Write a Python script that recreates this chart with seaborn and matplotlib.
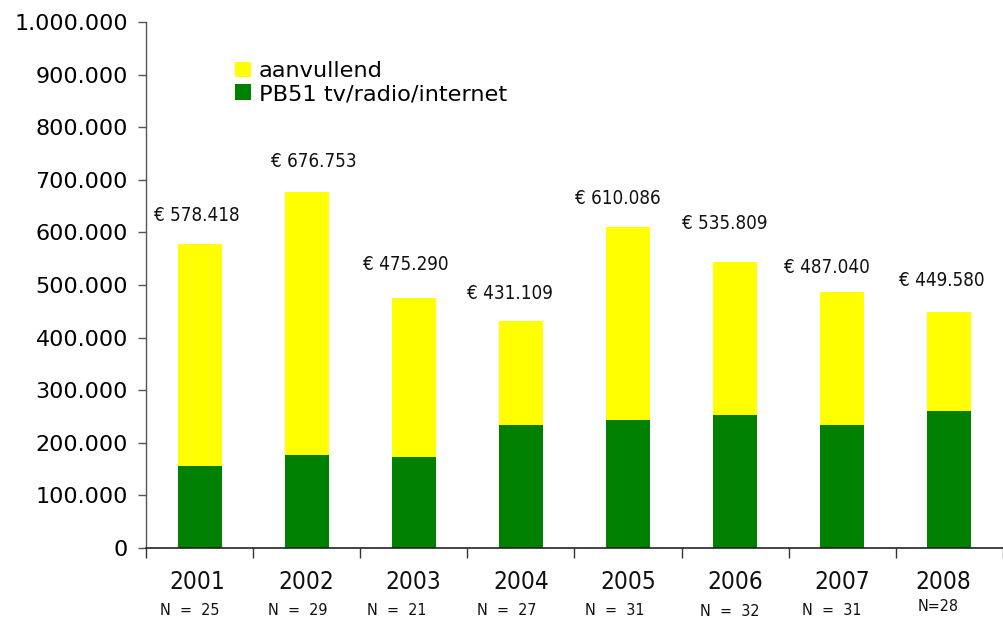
import matplotlib
matplotlib.use("Agg")
import matplotlib.pyplot as plt
import seaborn as sns
import pandas as pd
from matplotlib.ticker import FuncFormatter, FixedLocator
from matplotlib.patches import Patch
from matplotlib import font_manager as fm

# ---- data ----
years = ["2001", "2002", "2003", "2004", "2005", "2006", "2007", "2008"]
n_labels = ["N = 25", "N = 29", "N = 21", "N = 27", "N = 31", "N = 32", "N = 31", "N=28"]
totals = [578418, 676753, 475290, 431109, 610086, 544000, 487040, 449580]
total_labels = ["€ 578.418", "€ 676.753", "€ 475.290", "€ 431.109",
                "€ 610.086", "€ 535.809", "€ 487.040", "€ 449.580"]
pb51 = [156000, 177000, 173000, 234000, 243000, 253000, 234000, 260000]
series_names = ["aanvullend", "PB51 tv/radio/internet"]
colors = ["#FFFF00", "#008000"]

# label offsets (pixels)
label_offsets = [(-3, 28), (7, 31), (-8, 33), (-11, 28), (-10, 29), (-10, 38), (-15, 24), (-8, 31)]
year_dx = [-2, 0, -1, 0, 0, 0, 0, -6]
n_offsets = [(-10, -62), (-9, -62), (-17, -62), (-14, -62), (-13, -62), (-5, -63), (-11, -62), (-11, -58)]

sns.set_theme(style="white")
plt.rcParams['font.family'] = ['DejaVu Sans']

# condensed font lookup
cond_fp = None
for f in fm.fontManager.ttflist:
    if f.name == 'DejaVu Sans' and f.stretch in ('condensed', 'semi-condensed') and f.style == 'normal' and f.weight in (400, 'normal'):
        cond_fp = f.fname
        break
if cond_fp is None:
    for nm in ['Liberation Sans Narrow', 'Roboto Condensed', 'Open Sans Condensed']:
        hits = [f for f in fm.fontManager.ttflist if f.name == nm and f.style == 'normal']
        if hits:
            cond_fp = hits[0].fname
            break

def cprops(size):
    if cond_fp:
        return fm.FontProperties(fname=cond_fp, size=size)
    return fm.FontProperties(family='DejaVu Sans', size=size, stretch='condensed')

DPI = 100
fig = plt.figure(figsize=(10.04, 6.19), dpi=DPI)
ax = fig.add_axes([0.1454, 0.1147, 0.8536, 0.8498])

df = pd.DataFrame({"year": years, "total": totals, "pb51": pb51})
sns.barplot(data=df, x="year", y="total", color=colors[0], width=0.41, ax=ax,
            saturation=1, edgecolor="none", linewidth=0)
sns.barplot(data=df, x="year", y="pb51", color=colors[1], width=0.41, ax=ax,
            saturation=1, edgecolor="none", linewidth=0)

ax.set_xlim(-0.5, len(years) - 0.5)
ax.set_ylim(0, 1_000_000)
ax.set_xlabel("")
ax.set_ylabel("")

ax.yaxis.set_major_locator(FixedLocator(range(0, 1_000_001, 100_000)))
ax.yaxis.set_major_formatter(FuncFormatter(lambda v, p: f"{int(v):,}".replace(",", ".")))
ax.tick_params(axis='y', direction='out', length=6, width=1, color='#555555',
               labelsize=16, labelcolor='black', pad=7, left=True)

ax.set_xticks(range(len(years)))
ax.set_xticklabels([])
ax.tick_params(axis='x', which='major', length=0)
ax.xaxis.set_minor_locator(FixedLocator([i - 0.5 for i in range(len(years) + 1)]))
ax.tick_params(axis='x', which='minor', direction='out', length=7, width=1, color='#333333', bottom=True)

for s in ['top', 'right']:
    ax.spines[s].set_visible(False)
ax.spines['left'].set_color('#555555')
ax.spines['bottom'].set_color('#222222')
ax.spines['left'].set_linewidth(1)
ax.spines['bottom'].set_linewidth(1.2)

px = 72 / DPI

# value labels
for i, (t, lab) in enumerate(zip(totals, total_labels)):
    dx, dy = label_offsets[i]
    ax.annotate(lab, xy=(i, t), xytext=(dx * px, dy * px), textcoords='offset points',
                ha='center', va='center', fontproperties=cprops(13.5), color='#111111')

# year and N labels
for i, (y, n) in enumerate(zip(years, n_labels)):
    ax.annotate(y, xy=(i, 0), xycoords='data', xytext=(year_dx[i] * px, -34 * px), textcoords='offset points',
                ha='center', va='center', fontproperties=cprops(17.5), color='#111111')
    ndx, ndy = n_offsets[i]
    n_txt = n.replace(" = ", "  =  ")
    ax.annotate(n_txt, xy=(i, 0), xycoords='data', xytext=(ndx * px, ndy * px), textcoords='offset points',
                ha='center', va='center', fontproperties=cprops(11.5), color='#111111')

handles = [Patch(facecolor=colors[0], edgecolor='none'), Patch(facecolor=colors[1], edgecolor='none')]
leg = ax.legend(handles, series_names, loc='upper left', bbox_to_anchor=(0.104, 0.925),
                frameon=False, fontsize=16.2, handlelength=0.7, handleheight=0.7,
                handletextpad=0.35, labelspacing=0.12, borderaxespad=0, borderpad=0)
for t in leg.get_texts():
    t.set_color('black')

fig.savefig("out.png", dpi=DPI)
